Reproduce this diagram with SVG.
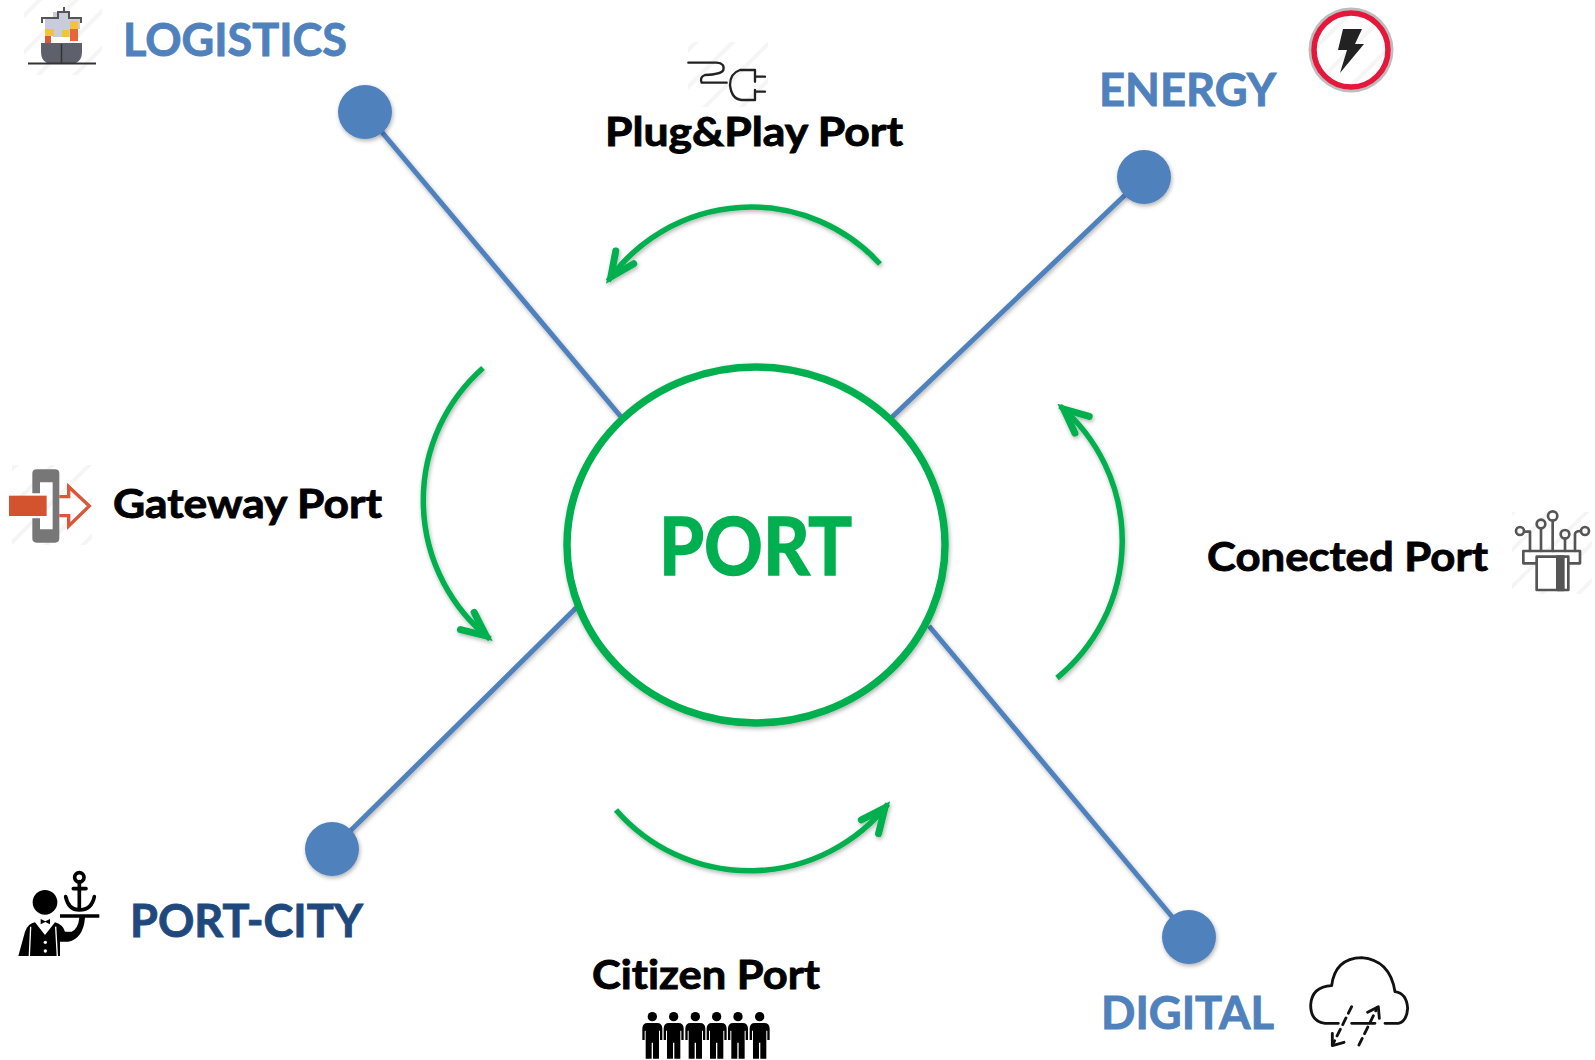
<svg xmlns="http://www.w3.org/2000/svg" width="1595" height="1060" viewBox="0 0 1595 1060">
<style>
text{font-family:"Lato","Open Sans","Noto Sans",sans-serif;font-weight:700;font-variant-ligatures:none;stroke-width:0.9px}
.h{font-size:46px;fill:#4f81bd;stroke:#4f81bd}
.p{font-size:41px;fill:#000;stroke:#000}
.spoke{stroke:#4f81bd;stroke-width:5;fill:none}
.dot{fill:#4f81bd}
.arc{stroke:#00b050;stroke-width:5.5;fill:none;marker-end:url(#head)}
.ln{fill:none;stroke-linecap:round;stroke-linejoin:round}
</style>
<defs>
<pattern id="hatch" width="26" height="26" patternUnits="userSpaceOnUse" patternTransform="rotate(-45)"><rect width="26" height="26" fill="#fff"/><rect width="26" height="4" fill="#f5f5f5"/></pattern>
<filter id="sh" x="-20%" y="-20%" width="140%" height="140%"><feDropShadow dx="1" dy="2" stdDeviation="2" flood-color="#000" flood-opacity="0.3"/></filter>
<marker id="head" markerUnits="userSpaceOnUse" markerWidth="40" markerHeight="40" viewBox="-32 -20 40 40" orient="auto" refX="5" refY="0"><path d="M-24,-11 L0,0 L-24,11" fill="none" stroke="#00b050" stroke-width="7" stroke-linecap="round" stroke-linejoin="miter"/></marker>
<g id="person"><circle cx="0" cy="0" r="14"/><path d="M-30,70 V36 Q-30,19 -14,19 H14 Q30,19 30,36 V70 H23 V42 H20 V126 H2 V78 H-2 V126 H-20 V42 H-23 V70 Z"/></g>
</defs>

<g id="connectors">
<g filter="url(#sh)">
<line class="spoke" x1="365" y1="112" x2="622" y2="418"/>
<line class="spoke" x1="1144" y1="177" x2="890" y2="419"/>
<line class="spoke" x1="332" y1="849" x2="577" y2="607"/>
<line class="spoke" x1="1189" y1="937" x2="929" y2="626"/>
</g>
<g filter="url(#sh)">
<path class="arc" d="M880,264 A175,175 0 0 0 608,281"/>
<path class="arc" d="M483,368 A177,177 0 0 0 490,639"/>
<path class="arc" d="M1057,678 A177,177 0 0 0 1060,406"/>
<path class="arc" d="M616,810 A177,177 0 0 0 888,804"/>
</g>
</g>

<g id="port"><ellipse cx="756" cy="545" rx="189" ry="178" fill="#fff" stroke="#00b050" stroke-width="7.5" filter="url(#sh)"/>
<text x="659" y="575" font-size="80" fill="#00b050" stroke="#00b050" style="stroke-width:1.6px" textLength="193" lengthAdjust="spacingAndGlyphs">PORT</text></g>

<g id="logistics">
<circle class="dot" cx="365" cy="112" r="27" filter="url(#sh)"/>
<text class="h" x="123" y="56" textLength="224" lengthAdjust="spacingAndGlyphs">LOGISTICS</text>
<rect x="24" y="0" width="78" height="75" fill="url(#hatch)"/>
<path d="M53,18 V12 H70 V18 H80 V29 H70 V37 H53 V29 H45 V18Z" fill="#c9ccdb"/>
<path d="M42,23 V18 H58 V12 H64 V7 M64,12 H69 V18 H81 V23" fill="none" stroke="#555" stroke-width="2"/>
<rect x="45" y="29" width="9" height="7" fill="#f2c33d"/><rect x="62" y="30" width="7" height="7" fill="#f2c33d"/><rect x="70" y="21" width="8" height="8" fill="#f2c33d"/><rect x="70" y="29" width="8" height="12" fill="#e8643c"/><rect x="45" y="36" width="6" height="7" fill="#d9583a"/>
<path d="M41,43 H82 V52 Q82,60 76,63 H47 Q41,60 41,52Z" fill="#5e616b"/>
<line x1="61.5" y1="44" x2="61.5" y2="63" stroke="#333" stroke-width="1.5"/>
<line x1="28" y1="63.5" x2="96" y2="63.5" stroke="#333" stroke-width="2"/>
</g>

<g id="energy">
<circle class="dot" cx="1144" cy="177" r="27" filter="url(#sh)"/>
<text class="h" x="1099" y="106" textLength="177" lengthAdjust="spacingAndGlyphs">ENERGY</text>
<circle cx="1351" cy="50" r="42.5" fill="#bdbdbd"/>
<circle cx="1351" cy="50" r="37" fill="url(#hatch)" stroke="#e5173a" stroke-width="5.5"/>
<path d="M1343,29 H1362 L1355,44 H1364 L1340,73 L1347,50 H1338Z" fill="#222"/>
</g>

<g id="plugplay">
<text class="p" x="605" y="146" textLength="298" lengthAdjust="spacingAndGlyphs">Plug&amp;Play Port</text>
<rect x="688" y="42" width="80" height="65" fill="url(#hatch)"/>
<g transform="translate(660,40) scale(0.3333)" class="ln" stroke="#222" stroke-width="7">
<path d="M85,68 H170 Q195,70 190,90 Q185,103 135,105 Q118,112 125,128 H200"/>
<path d="M285,90 H240 Q210,100 210,135 Q215,178 245,180 H285 V150 M285,125 V90 M290,110 H315 M290,155 H315"/>
</g>
</g>

<g id="gateway">
<text class="p" x="113" y="518" textLength="269" lengthAdjust="spacingAndGlyphs">Gateway Port</text>
<rect x="12" y="465" width="80" height="80" fill="url(#hatch)"/>
<g transform="translate(0,450) scale(0.3333)">
<path d="M178,140 H206 V110 L268,168 L206,228 V197 H178" fill="#fff" stroke="#d9583a" stroke-width="10"/>
<path d="M110,58 H165 Q178,58 178,70 V265 Q178,278 165,278 H110 Q97,278 97,265 V205 H120 V238 H158 V97 H120 V130 H97 V70 Q97,58 110,58Z" fill="#777"/>
<rect x="27" y="137" width="113" height="61" fill="#d4532f"/>
</g>
</g>

<g id="connected">
<text class="p" x="1207" y="571" textLength="281" lengthAdjust="spacingAndGlyphs">Conected Port</text>
<rect x="1512" y="512" width="80" height="82" fill="url(#hatch)"/>
<g transform="translate(1480,495) scale(0.3333)" class="ln" stroke="#555" stroke-width="8">
<rect x="130" y="168" width="170" height="37" fill="#fff"/>
<rect x="170" y="185" width="95" height="100" fill="#fff"/>
<rect x="232" y="185" width="18" height="100" fill="#555"/>
<path d="M150,168 V110 H133 M183,100 V168 M218,77 V168 M255,131 V168 M285,168 V118 Q285,108 302,108"/>
<circle cx="120" cy="108" r="12" fill="none"/><circle cx="183" cy="87" r="13" fill="none"/><circle cx="218" cy="63" r="14" fill="none"/><circle cx="255" cy="118" r="13" fill="none"/><circle cx="315" cy="108" r="12" fill="none"/>
</g>
</g>

<g id="portcity">
<circle class="dot" cx="332" cy="849" r="27" filter="url(#sh)"/>
<text class="h" x="130" y="937" style="fill:#1f497d;stroke:#1f497d" textLength="233" lengthAdjust="spacingAndGlyphs">PORT-CITY</text>
<g transform="translate(0,845) scale(0.3333)">
<circle cx="135" cy="172" r="37"/>
<path d="M55,333 L75,260 Q85,235 105,232 L135,270 L165,232 Q190,240 195,260 H215 Q235,250 238,218 H180 V208 H298 V218 H255 Q250,280 205,290 H180 V333Z"/>
<path d="M122,222 L136,229 L150,222 V238 L136,231 L122,238Z"/>
<path d="M92,245 L88,333 M167,245 L172,333" stroke="#fff" stroke-width="4" fill="none"/>
<circle cx="136" cy="292" r="5" fill="#fff"/><circle cx="136" cy="318" r="5" fill="#fff"/>
<g class="ln" stroke="#000" stroke-width="11"><circle cx="238" cy="97" r="14" fill="none"/><path d="M238,110 V195 M220,131 H258 M197,155 Q205,195 238,195 Q275,195 283,155"/></g>
</g>
</g>

<g id="digital">
<circle class="dot" cx="1189" cy="937" r="27" filter="url(#sh)"/>
<text class="h" x="1101" y="1029" textLength="173" lengthAdjust="spacingAndGlyphs">DIGITAL</text>
<g transform="translate(1270,925) scale(0.3333)" class="ln" stroke="#111" stroke-width="8.5">
<path d="M205,295 H165 Q122,290 122,240 Q125,185 185,182 Q195,100 275,98 Q360,105 375,200 Q410,205 413,250 Q410,290 385,295 H345 M315,295 H245"/>
<path d="M245,245 L190,355 M267,360 L322,248" stroke-dasharray="22 16"/>
<path d="M293,262 L325,245 L328,280 M187,325 L187,362 L222,352"/>
</g>
</g>

<g id="citizen">
<text class="p" x="592" y="989" textLength="228" lengthAdjust="spacingAndGlyphs">Citizen Port</text>
<g transform="translate(620,980) scale(0.3333)" fill="#000">
<use href="#person" x="97" y="110"/><use href="#person" x="161" y="110"/><use href="#person" x="226" y="110"/><use href="#person" x="290" y="110"/><use href="#person" x="354" y="110"/><use href="#person" x="419" y="110"/>
</g>
</g>
</svg>
